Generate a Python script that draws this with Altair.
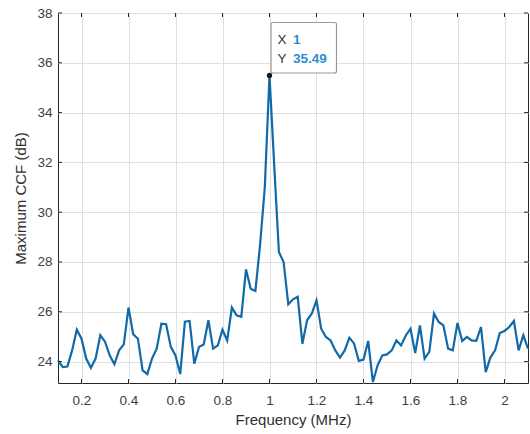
import altair as alt
import pandas as pd

# Frequency grid (MHz) and maximum cross-correlation (dB)
freq = [round(0.10 + 0.02 * i, 2) for i in range(101)]
ccf = [
    24.05, 23.78, 23.80, 24.45, 25.28, 24.92, 24.12, 23.75, 24.12, 25.06,
    24.80, 24.25, 23.89, 24.45, 24.69, 26.17, 25.10, 24.92, 23.65, 23.50,
    24.12, 24.52, 25.52, 25.50, 24.59, 24.25, 23.50, 25.60, 25.63, 23.92,
    24.59, 24.69, 25.66, 24.52, 24.65, 25.28, 24.85, 26.17, 25.86, 25.80,
    27.70, 26.93, 26.84, 28.70, 31.00, 35.49, 31.90, 28.40, 28.00, 26.30,
    26.50, 26.60, 24.72, 25.66, 25.93, 26.46, 25.32, 24.99, 24.85, 24.45,
    24.16, 24.45, 24.96, 24.72, 24.03, 24.08, 24.83, 23.18, 23.85, 24.25,
    24.29, 24.45, 24.85, 24.65, 25.05, 25.32, 24.34, 25.45, 24.12, 24.39,
    25.93, 25.59, 25.45, 24.52, 24.45, 25.55, 24.83, 24.99, 24.85, 24.83,
    25.39, 23.58, 24.16, 24.45, 25.15, 25.23, 25.39, 25.63, 24.45, 25.06,
    24.52,
]

x_ticks = [0.2, 0.4, 0.6, 0.8, 1.0, 1.2, 1.4, 1.6, 1.8, 2.0]
y_ticks = [24, 26, 28, 30, 32, 34, 36, 38]
x_domain = [0.1, 2.1]
y_domain = [23.14, 38]

# Data tip on the peak
tip_x = [1.0]
tip_y = [35.49]

W, H = 470, 370
FONT = "Liberation Sans"
AXIS_COLOR = "#262626"
LINE_COLOR = "#1069a8"
TIP_BLUE = "#2a8fd3"

df = pd.DataFrame({"f": freq, "v": ccf})
tip = pd.DataFrame({"f": tip_x, "v": tip_y,
                    "xl": ["X"], "yl": ["Y"],
                    "xv": [f"{tip_x[0]:g}"], "yv": [f"{tip_y[0]:.2f}"]})
xt = pd.DataFrame({"t": x_ticks})
yt = pd.DataFrame({"t": y_ticks})

xs = alt.Scale(domain=x_domain, nice=False, zero=False)
ys = alt.Scale(domain=y_domain, nice=False, zero=False)

x_axis = alt.Axis(values=x_ticks, format="~g", grid=True, gridColor="#e0e0e0",
                  domain=False, ticks=False, labelPadding=10, labelFontSize=13.5,
                  labelColor="#404040", labelFont=FONT, title="Frequency (MHz)",
                  titleFont=FONT, titleFontSize=15, titleFontWeight="normal",
                  titleColor="#303030", titlePadding=6)
y_axis = alt.Axis(values=y_ticks, grid=True, gridColor="#e0e0e0",
                  domain=False, ticks=False, labelPadding=6, labelFontSize=13.5,
                  labelColor="#404040", labelFont=FONT, title="Maximum CCF (dB)",
                  titleFont=FONT, titleFontSize=15, titleFontWeight="normal",
                  titleColor="#303030", titlePadding=8)

line = alt.Chart(df).mark_line(color=LINE_COLOR, strokeWidth=2.2).encode(
    x=alt.X("f:Q", scale=xs, axis=x_axis),
    y=alt.Y("v:Q", scale=ys, axis=y_axis),
)

# Inward tick marks on all four sides of the box
tick_len = 4
bottom_ticks = alt.Chart(xt).mark_rule(color=AXIS_COLOR).encode(
    x=alt.X("t:Q", scale=xs), y=alt.value(H - tick_len), y2=alt.value(H))
top_ticks = alt.Chart(xt).mark_rule(color=AXIS_COLOR).encode(
    x=alt.X("t:Q", scale=xs), y=alt.value(0), y2=alt.value(tick_len))
left_ticks = alt.Chart(yt).mark_rule(color=AXIS_COLOR).encode(
    y=alt.Y("t:Q", scale=ys), x=alt.value(0), x2=alt.value(tick_len))
right_ticks = alt.Chart(yt).mark_rule(color=AXIS_COLOR).encode(
    y=alt.Y("t:Q", scale=ys), x=alt.value(W - tick_len), x2=alt.value(W))

base_tip = alt.Chart(tip).encode(x=alt.X("f:Q", scale=xs), y=alt.Y("v:Q", scale=ys))
tip_box = alt.Chart(tip).mark_rect(
    fill="white", fillOpacity=0.92, stroke="#9a9a9a", strokeWidth=1.2,
    cornerRadius=2, xOffset=1.5, x2Offset=67, yOffset=-53, y2Offset=-2.5,
).encode(x=alt.X("f:Q", scale=xs), x2="f:Q", y=alt.Y("v:Q", scale=ys), y2="v:Q")
tip_dot = base_tip.mark_circle(color="#1a1a1a", size=28, opacity=1)
tip_xl = base_tip.mark_text(align="left", baseline="middle", dx=8, dy=-35,
                            font=FONT, fontSize=13.5, color="#333333").encode(text="xl:N")
tip_yl = base_tip.mark_text(align="left", baseline="middle", dx=8, dy=-16,
                            font=FONT, fontSize=13.5, color="#333333").encode(text="yl:N")
tip_xv = base_tip.mark_text(align="left", baseline="middle", dx=23.5, dy=-35,
                            font=FONT, fontSize=13.5, fontWeight="bold",
                            color=TIP_BLUE).encode(text="xv:N")
tip_yv = base_tip.mark_text(align="left", baseline="middle", dx=23.5, dy=-16,
                            font=FONT, fontSize=13.5, fontWeight="bold",
                            color=TIP_BLUE).encode(text="yv:N")

chart = alt.layer(
    line, bottom_ticks, top_ticks, left_ticks, right_ticks,
    tip_box, tip_dot, tip_xl, tip_yl, tip_xv, tip_yv,
).properties(
    width=W, height=H,
    autosize=alt.AutoSizeParams(type="none"),
    padding={"left": 58, "top": 13, "right": 2, "bottom": 51},
    background="white",
).configure_view(stroke=AXIS_COLOR, strokeWidth=1)

chart.save("out.html", embed_options={"renderer": "svg", "actions": False})
